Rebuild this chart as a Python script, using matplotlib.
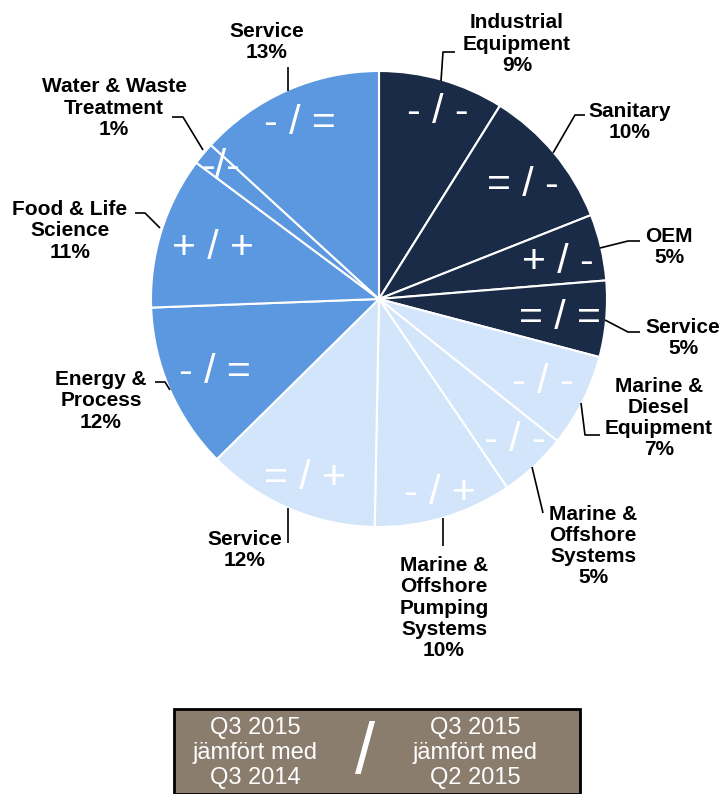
import matplotlib
matplotlib.use('Agg')
import matplotlib.pyplot as plt
from matplotlib.patches import Rectangle

# ── Данные ────────────────────────────────────────────────────────
segments = ['Industrial\nEquipment', 'Sanitary', 'OEM', 'Service',
            'Marine &\nDiesel\nEquipment', 'Marine &\nOffshore\nSystems',
            'Marine &\nOffshore\nPumping\nSystems', 'Service',
            'Energy &\nProcess', 'Food & Life\nScience',
            'Water & Waste\nTreatment', 'Service']
shares = [8.9, 10.1, 4.7, 5.4, 6.6, 4.8, 9.8, 12.3, 11.8, 10.8, 1.6, 13.2]
share_labels = ['9%', '10%', '5%', '5%', '7%', '5%', '10%', '12%', '12%', '11%', '1%', '13%']
trends = ['- / -', '= / -', '+ / -', '= / =', '- / -', '- / -', '- / +', '= / +',
          '- / =', '+ / +', '-/-', '- / =']
groups = ['dark'] * 4 + ['light'] * 4 + ['mid'] * 4

# ── Стиль / позиции (пиксели, отсчёт сверху) ───────────────────────
W, H = 727, 794
COLORS = {'dark': '#1a2b47', 'mid': '#5c98e0', 'light': '#d3e5fb'}
BOX_COLOR = '#8a7d6e'
CENTER = (379, 299)
RADIUS = 228

label_pos = [(517, 44), (630, 122), (669, 247), (683, 338), (659, 418), (593, 546),
             (444, 608), (245, 550), (101, 401), (70, 231), (114, 108), (267, 42)]
trend_pos = [(438, 112), (523, 185), (558, 262), (560, 318), (543, 382), (515, 440),
             (440, 493), (305, 478), (215, 372), (213, 248), (221, 167), (300, 123)]
leaders = [
    [(455, 52), (443, 52), (441, 81)],
    [(585, 115), (575, 115), (553, 153)],
    [(640, 241), (628, 241), (600, 248)],
    [(640, 332), (628, 332), (605, 320)],
    [(581, 403), (585, 435), (600, 435)],
    [(532, 467), (543, 513)],
    [(443, 518), (443, 546)],
    [(288, 508), (288, 543)],
    [(155, 382), (165, 382), (170, 390)],
    [(135, 213), (145, 213), (160, 228)],
    [(172, 117), (183, 117), (203, 150)],
    [(288, 67), (288, 91)],
]

plt.rcParams['font.family'] = ['Liberation Sans', 'DejaVu Sans']

fig = plt.figure(figsize=(W / 100, H / 100), dpi=100)
ax = fig.add_axes([0, 0, 1, 1])

ax.pie(shares, colors=[COLORS[g] for g in groups], startangle=90, counterclock=False,
       radius=RADIUS, center=(CENTER[0], H - CENTER[1]),
       wedgeprops=dict(edgecolor='white', linewidth=1.5))
ax.set_xlim(0, W)
ax.set_ylim(0, H)
ax.axis('off')

# подписи сегментов
for name, pct, (x, y) in zip(segments, share_labels, label_pos):
    ax.text(x, H - y, f'{name}\n{pct}', ha='center', va='center',
            fontsize=15, fontweight='bold', color='black', linespacing=1.15)

# тренды внутри сегментов
for t, (x, y) in zip(trends, trend_pos):
    ax.text(x, H - y, t, ha='center', va='center', fontsize=29.5, color='white')

# выноски
for pts in leaders:
    ax.plot([p[0] for p in pts], [H - p[1] for p in pts], color='black', linewidth=1.2,
            solid_capstyle='butt')

# легенда-плашка внизу
ax.add_patch(Rectangle((174, 0), 580 - 174, H - 709, facecolor=BOX_COLOR,
                       edgecolor='black', linewidth=2, clip_on=False))
ax.text(255, H - 753, 'Q3 2015\njämfört med\nQ3 2014', ha='center', va='center',
        fontsize=17, color='white', linespacing=1.2)
ax.text(475, H - 753, 'Q3 2015\njämfört med\nQ2 2015', ha='center', va='center',
        fontsize=17, color='white', linespacing=1.2)
ax.text(365, H - 755, '/', ha='center', va='center', fontsize=52, color='white')

fig.savefig('out.png', dpi=100)
